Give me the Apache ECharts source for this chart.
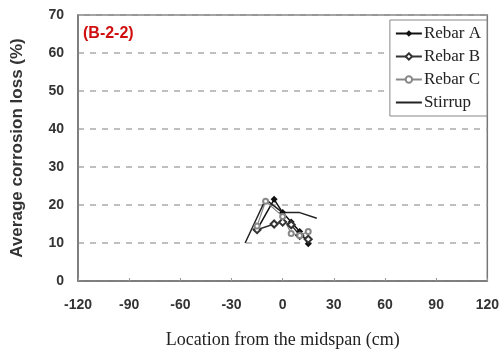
<!DOCTYPE html>
<html>
<head>
<meta charset="utf-8">
<script src="https://cdn.jsdelivr.net/npm/echarts@6/dist/echarts.min.js"></script>
<style>
  html, body { margin: 0; padding: 0; background: #fff; }
  #chart { width: 502px; height: 354px; }
</style>
</head>
<body>
<div id="chart"></div>
<script>
// Values: [location (cm), corrosion loss (%)]
const rebarA = [[-15, 13.5], [-5, 21.5], [0, 18], [5, 15.5], [10, 13], [15, 9.8]];
const rebarB = [[-15, 13.5], [-5, 15], [0, 15.5], [5, 14.8], [10, 12], [15, 11]];
const rebarC = [[-15, 14.5], [-10, 21], [0, 17], [5, 12.5], [10, 12], [15, 13]];
const stirrup = [[-22, 10], [-10, 21.5], [0, 18], [10, 18], [20, 16.5]];
const xTicks = [-120, -90, -60, -30, 0, 30, 60, 90, 120];
const panelLabel = '(B-2-2)';

const chart = echarts.init(document.getElementById('chart'));

const tickFont = { fontFamily: 'Liberation Sans', fontWeight: 'bold', fontSize: 14, color: '#333' };

chart.setOption({
  animation: false,
  grid: { left: 78, right: 14, top: 15, bottom: 73, show: true, borderColor: '#777', borderWidth: 1.5 },
  legend: {
    orient: 'vertical',
    right: 15,
    top: 20,
    itemWidth: 26,
    itemHeight: 8,
    itemGap: 6,
    padding: [5, 6, 5, 5],
    borderColor: '#888',
    borderWidth: 1,
    backgroundColor: '#fff',
    textStyle: { fontFamily: 'Liberation Serif', fontSize: 17, color: '#222', padding: [0, 0, 0, -3] },
    data: ['Rebar A', 'Rebar B', 'Rebar C', { name: 'Stirrup', itemStyle: { opacity: 0 } }]
  },
  graphic: [{
    type: 'text', left: 83, top: 26,
    style: { text: panelLabel, fill: '#d01010', font: 'bold 16px "Liberation Sans"' }
  }],
  xAxis: {
    type: 'value', min: xTicks[0], max: xTicks[xTicks.length - 1], interval: 30,
    name: 'Location from the midspan (cm)', nameLocation: 'middle', nameGap: 50,
    nameTextStyle: { fontFamily: 'Liberation Serif', fontSize: 18, color: '#222' },
    axisLine: { lineStyle: { color: '#777', width: 1.5 } },
    axisTick: { inside: true, length: 3, lineStyle: { color: '#999' } },
    axisLabel: Object.assign({ margin: 17 }, tickFont),
    splitLine: { show: false }
  },
  yAxis: {
    type: 'value', min: 0, max: 70, interval: 10,
    name: 'Average corrosion loss (%)', nameLocation: 'middle', nameGap: 52,
    nameTextStyle: { fontFamily: 'Liberation Sans', fontWeight: 'bold', fontSize: 17, color: '#333' },
    axisLine: { show: true, onZero: false, lineStyle: { color: '#777', width: 1.5 } },
    axisTick: { show: false },
    axisLabel: Object.assign({ margin: 14 }, tickFont),
    splitLine: { lineStyle: { color: '#aaa', type: [6, 6], width: 1.5 } }
  },
  series: [
    {
      name: 'Rebar A', type: 'line', data: rebarA,
      symbol: 'diamond', symbolSize: 7,
      lineStyle: { color: '#111', width: 1.5 }, itemStyle: { color: '#111' }
    },
    {
      name: 'Rebar B', type: 'line', data: rebarB,
      symbol: 'emptyDiamond', symbolSize: 7,
      lineStyle: { color: '#333', width: 1.5 }, itemStyle: { color: '#333', borderWidth: 1 }
    },
    {
      name: 'Rebar C', type: 'line', data: rebarC,
      symbol: 'emptyCircle', symbolSize: 5,
      lineStyle: { color: '#888', width: 1.2 }, itemStyle: { color: '#888', borderWidth: 1 }
    },
    {
      name: 'Stirrup', type: 'line', data: stirrup,
      symbol: 'none', showSymbol: false,
      lineStyle: { color: '#222', width: 1.5 }, itemStyle: { color: '#222' }
    }
  ]
});
</script>
</body>
</html>
